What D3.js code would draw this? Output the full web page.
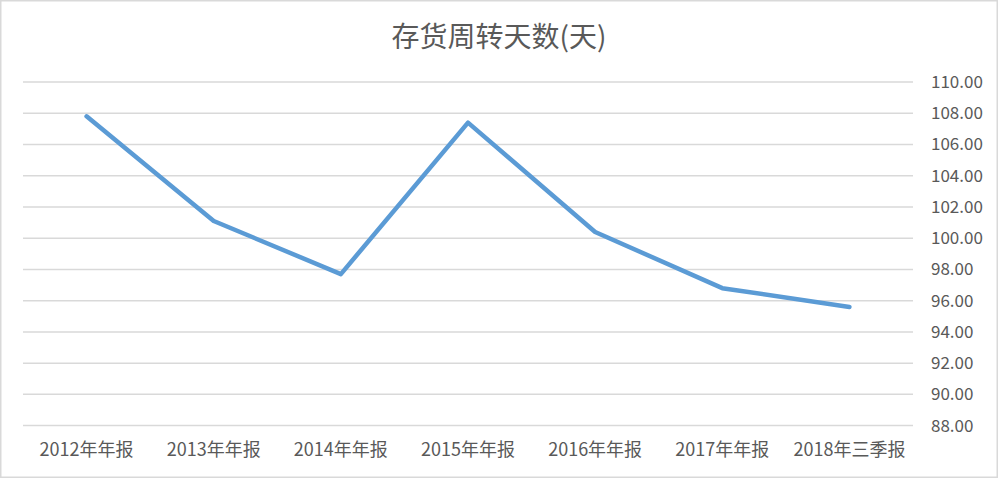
<!DOCTYPE html>
<html><head><meta charset="utf-8">
<script src="https://cdn.jsdelivr.net/npm/d3@7/dist/d3.min.js"></script>
<style>html,body{margin:0;padding:0;background:#fff;}svg{display:block;}</style>
</head><body>
<svg id="c" width="998" height="478"></svg>
<script>
const title = "存货周转天数(天)";
const categories = ["2012年年报","2013年年报","2014年年报","2015年年报","2016年年报","2017年年报","2018年三季报"];
const values = [107.8, 101.1, 97.7, 107.4, 100.4, 96.8, 95.6];
const yTicks = [88,90,92,94,96,98,100,102,104,106,108,110];

const svg = d3.select("#c");
const W = 998, H = 478;
const m = {left: 23, right: 85, top: 82, bottom: 52.4};
const font = "'Noto Sans CJK SC','Noto Sans',sans-serif";

svg.append("rect").attr("x",0.75).attr("y",0.75).attr("width",W-1.5).attr("height",H-1.5)
  .attr("fill","#fff").attr("stroke","#d9d9d9").attr("stroke-width",1.5);

const x = d3.scaleBand().domain(categories).range([m.left, W-m.right]);
const y = d3.scaleLinear().domain([88,110]).range([H-m.bottom, m.top]);

// gridlines
svg.append("g").selectAll("line").data(yTicks).join("line")
  .attr("x1", m.left).attr("x2", W-m.right)
  .attr("y1", d=>y(d)).attr("y2", d=>y(d))
  .attr("stroke","#d9d9d9").attr("stroke-width",1.5);

// right axis labels
const yAxis = d3.axisRight(y).tickValues(yTicks).tickFormat(d3.format(".2f")).tickSize(0).tickPadding(0);
const gy = svg.append("g").attr("transform",`translate(${W-m.right+18},0)`).call(yAxis);
gy.select(".domain").remove();
gy.selectAll("text").attr("font-family",font).attr("font-size",17).attr("fill","#595959");

// bottom axis labels
const xAxis = d3.axisBottom(x).tickSize(0).tickPadding(0);
const gx = svg.append("g").attr("transform",`translate(0,${H-m.bottom})`).call(xAxis);
gx.select(".domain").remove();
gx.selectAll("text").attr("font-family",font).attr("font-size",18).attr("fill","#595959").attr("dy","1.0em").attr("y",12);

// line
const line = d3.line().x((d,i)=>x(categories[i])+x.bandwidth()/2).y(d=>y(d));
svg.append("path").datum(values).attr("d",line)
  .attr("fill","none").attr("stroke","#5b9bd5").attr("stroke-width",4.5)
  .attr("stroke-linejoin","round").attr("stroke-linecap","round");

// title
svg.append("text").attr("x",499).attr("y",47).attr("text-anchor","middle")
  .attr("font-family",font).attr("font-size",28).attr("fill","#595959").text(title);
</script>
</body></html>
